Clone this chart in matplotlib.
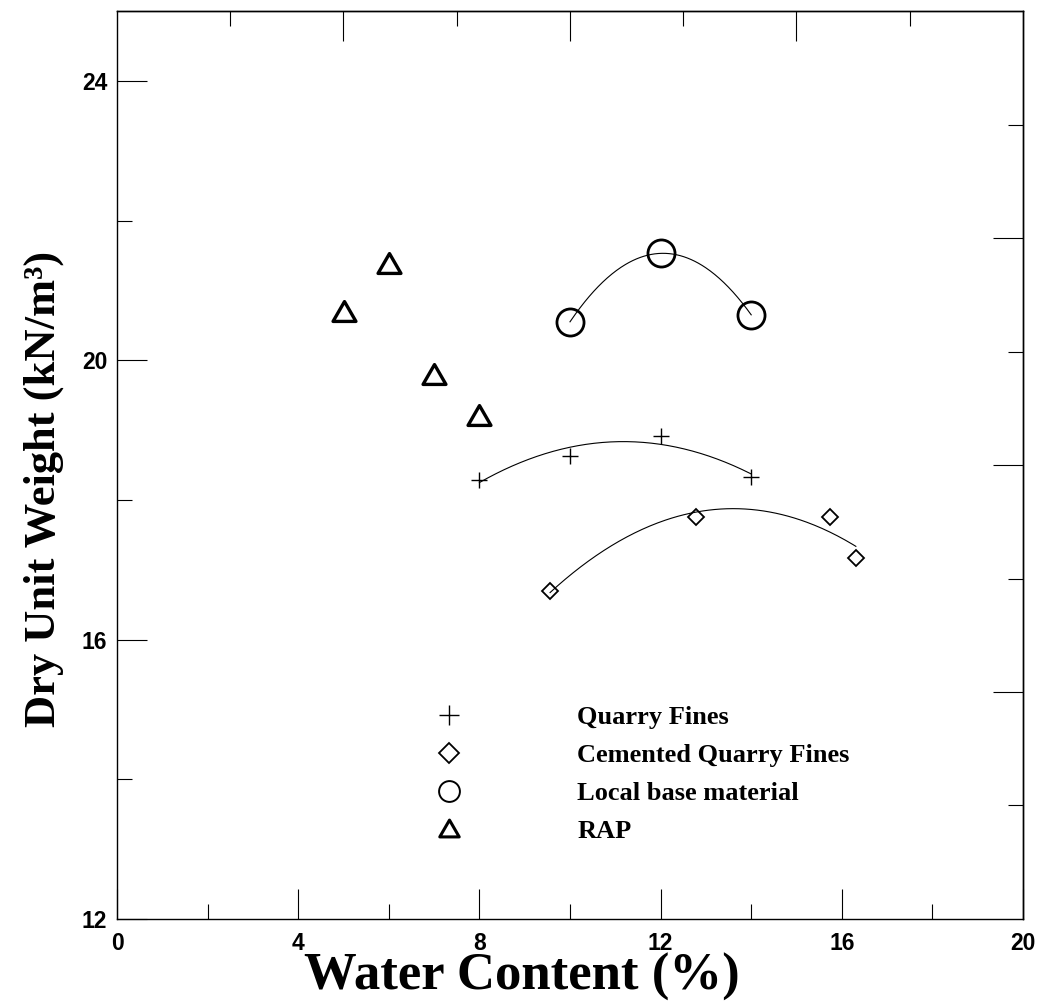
import numpy as np
import matplotlib
matplotlib.use("Agg")
import matplotlib.pyplot as plt
from matplotlib.lines import Line2D
from matplotlib.path import Path
from matplotlib.ticker import FixedLocator, NullFormatter

# Compaction data: water content (%) vs dry unit weight (kN/m3)
qf_w = [8.0, 10.0, 12.0, 14.0]
qf_g = [18.29, 18.63, 18.92, 18.33]

cqf_w = [9.56, 12.78, 15.75, 16.31]
cqf_g = [16.69, 17.76, 17.75, 17.17]

lbm_w = [10.0, 12.0, 14.0]
lbm_g = [20.55, 21.53, 20.65]

rap_w = [5.0, 6.0, 7.0, 8.0]
rap_g = [20.70, 21.39, 19.81, 19.22]

labels = ["Quarry Fines", "Cemented Quarry Fines", "Local base material", "RAP"]

x_major = [0, 4, 8, 12, 16, 20]
y_major = [12, 16, 20, 24]

serif = "Liberation Serif"
sans = "Liberation Sans"

fig = plt.figure(figsize=(10.41, 10.02), dpi=100)
ax = fig.add_axes([117 / 1041, 1 - 919 / 1002, 906 / 1041, 908 / 1002])
ax.set_xlim(0, 20)
ax.set_ylim(12, 25)

# equilateral triangle marker
tri = Path([(-1.0, -0.866), (1.0, -0.866), (0.0, 0.866), (-1.0, -0.866)],
           [Path.MOVETO, Path.LINETO, Path.LINETO, Path.CLOSEPOLY])


def fit_curve(w, g, deg=2):
    coef = np.polyfit(w, g, deg)
    xs = np.linspace(min(w), max(w), 200)
    ax.plot(xs, np.polyval(coef, xs), color="black", lw=0.8, zorder=2)


fit_curve(qf_w, qf_g)
fit_curve(cqf_w, cqf_g)
fit_curve(lbm_w, lbm_g)

ax.plot(qf_w, qf_g, ls="none", marker="+", ms=11, mew=1.0, color="black", zorder=3)
ax.plot(cqf_w, cqf_g, ls="none", marker="D", ms=7.8, mew=1.3, mfc="none", mec="black", zorder=3)
ax.plot(lbm_w, lbm_g, ls="none", marker="o", ms=19.5, mew=2.0, mfc="none", mec="black", zorder=3)
ax.plot(rap_w, rap_g, ls="none", marker=tri, ms=16.5, mew=2.4, mfc="none", mec="black",
        zorder=3, solid_joinstyle="miter")

# legend with its own marker sizes
handles = [
    Line2D([], [], ls="none", marker="+", ms=15, mew=1.0, color="black"),
    Line2D([], [], ls="none", marker="D", ms=10.5, mew=1.3, mfc="none", mec="black"),
    Line2D([], [], ls="none", marker="o", ms=15, mew=1.4, mfc="none", mec="black"),
    Line2D([], [], ls="none", marker=tri, ms=14, mew=2.2, mfc="none", mec="black"),
]
leg = ax.legend(handles, labels, loc="upper left",
                bbox_to_anchor=((423 - 117) / 906, (919 - 706) / 908),
                frameon=False, borderpad=0, borderaxespad=0,
                handlelength=2.0, handletextpad=3.85, labelspacing=0.54,
                prop={"family": serif, "weight": "bold", "size": 19})

# ticks
ax.xaxis.set_major_locator(FixedLocator(x_major))
ax.xaxis.set_minor_locator(FixedLocator([2, 6, 10, 14, 18]))
ax.yaxis.set_major_locator(FixedLocator(y_major))
ax.yaxis.set_minor_locator(FixedLocator([14, 18, 22]))
ax.tick_params(which="major", direction="in", length=21.6, width=0.8, top=False, right=False)
ax.tick_params(which="minor", direction="in", length=10.8, width=0.8, top=False, right=False)
ax.tick_params(axis="x", which="major", pad=9)
ax.tick_params(axis="y", which="major", pad=7)
for lab in ax.get_xticklabels() + ax.get_yticklabels():
    lab.set_fontfamily(sans)
    lab.set_fontweight("bold")
    lab.set_fontsize(16.5)

# top and right axes carry their own tick divisions (eight intervals)
top = ax.secondary_xaxis("top")
top.xaxis.set_major_locator(FixedLocator([2.5 * k for k in (2, 4, 6)]))
top.xaxis.set_minor_locator(FixedLocator([2.5 * k for k in (1, 3, 5, 7)]))
top.xaxis.set_major_formatter(NullFormatter())
top.tick_params(which="major", direction="in", length=21.6, width=0.8)
top.tick_params(which="minor", direction="in", length=10.8, width=0.8)

right = ax.secondary_yaxis("right")
right.yaxis.set_major_locator(FixedLocator([12 + 1.625 * k for k in (2, 4, 6)]))
right.yaxis.set_minor_locator(FixedLocator([12 + 1.625 * k for k in (1, 3, 5, 7)]))
right.yaxis.set_major_formatter(NullFormatter())
right.tick_params(which="major", direction="in", length=21.6, width=0.8)
right.tick_params(which="minor", direction="in", length=10.8, width=0.8)

for s in ax.spines.values():
    s.set_linewidth(1.0)
for s in list(top.spines.values()) + list(right.spines.values()):
    s.set_linewidth(1.0)

ax.set_xlabel("Water Content (%)", fontfamily=serif, fontweight="bold", fontsize=38, labelpad=0)
ax.xaxis.set_label_coords((522 - 117) / 906, -0.0375, transform=ax.transAxes)
ax.xaxis.label.set_va("top")
ax.set_ylabel("Dry Unit Weight (kN/m\u00b3)", fontfamily=serif, fontweight="bold",
              fontsize=32)
ax.yaxis.set_label_coords(-0.058, (919 - 489) / 908, transform=ax.transAxes)

fig.savefig("out.png", dpi=100)
